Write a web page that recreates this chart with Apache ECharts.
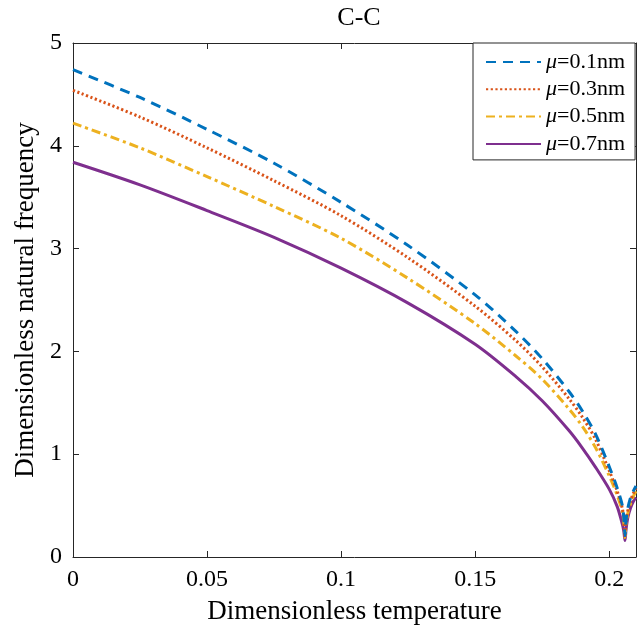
<!DOCTYPE html>
<html>
<head>
<meta charset="utf-8">
<script src="https://cdn.jsdelivr.net/npm/echarts@6/dist/echarts.min.js"></script>
<style>
  html, body { margin: 0; padding: 0; background: #fff; }
  #chart { width: 643px; height: 634px; }
</style>
</head>
<body>
<div id="chart"></div>
<script>
// ---- data ----
const temperature = [0, 0.025, 0.05, 0.075, 0.1, 0.125, 0.15, 0.165, 0.175, 0.185, 0.19, 0.195, 0.2, 0.203, 0.205, 0.2055, 0.2059, 0.2063, 0.207, 0.208, 0.209, 0.21];
const mu01 = [4.74, 4.47, 4.16, 3.83, 3.45, 3.03, 2.55, 2.20, 1.93, 1.61, 1.42, 1.19, 0.88, 0.67, 0.49, 0.36, 0.21, 0.36, 0.48, 0.58, 0.64, 0.69];
const mu03 = [4.54, 4.28, 3.98, 3.66, 3.32, 2.91, 2.44, 2.11, 1.85, 1.54, 1.36, 1.14, 0.84, 0.64, 0.46, 0.34, 0.20, 0.34, 0.46, 0.55, 0.62, 0.67];
const mu05 = [4.22, 3.98, 3.70, 3.41, 3.10, 2.71, 2.27, 1.96, 1.73, 1.44, 1.27, 1.06, 0.79, 0.60, 0.43, 0.32, 0.19, 0.32, 0.43, 0.52, 0.59, 0.64];
const mu07 = [3.84, 3.62, 3.37, 3.11, 2.81, 2.47, 2.07, 1.76, 1.52, 1.23, 1.06, 0.87, 0.66, 0.49, 0.31, 0.24, 0.16, 0.27, 0.39, 0.48, 0.54, 0.58];
const seriesLabels = ['0.1', '0.3', '0.5', '0.7'];
const xTicks = [0, 0.05, 0.1, 0.15, 0.2];
const xTickText = ['0', '0.05', '0.1', '0.15', '0.2'];
const yTicks = [0, 1, 2, 3, 4, 5];

const FONT = "'Liberation Serif', 'Times New Roman', serif";
const AX = '#262626';
const colors = ['#0072BD', '#D95319', '#EDB120', '#7E2F8E'];
const dashes = [[10, 7], [2.2, 2.5], [9, 4, 3, 4], 'solid'];
const values = [mu01, mu03, mu05, mu07];

const series = values.map((vals, i) => ({
  name: 'μ=' + seriesLabels[i] + 'nm',
  type: 'line',
  xAxisIndex: 0,
  yAxisIndex: 0,
  data: temperature.map((t, k) => [t, vals[k]]),
  showSymbol: false,
  symbol: 'none',
  smooth: 0.3,
  clip: true,
  lineStyle: { color: colors[i], width: 3, type: dashes[i], cap: 'butt' },
  itemStyle: { color: colors[i] },
  z: 10 - i
}));

function xFmt(v) {
  for (let i = 0; i < xTicks.length; i++) {
    if (Math.abs(v - xTicks[i]) < 1e-9) return xTickText[i];
  }
  return '';
}

const chart = echarts.init(document.getElementById('chart'), null, { renderer: 'canvas' });
chart.setOption({
  animation: false,
  backgroundColor: '#ffffff',
  title: {
    text: 'C-C',
    left: 354, top: 0, textAlign: 'center',
    textStyle: { fontFamily: FONT, fontSize: 26, fontWeight: 'normal', color: '#000' }
  },
  grid: { left: 73, right: 7, top: 43, bottom: 77, containLabel: false },
  legend: {
    orient: 'vertical',
    left: 473, top: 43,
    padding: [8, 10, 5, 12],
    itemWidth: 55, itemHeight: 14, itemGap: 5.3,
    backgroundColor: '#ffffff',
    borderColor: '#262626', borderWidth: 1, borderRadius: 0,
    itemStyle: { color: 'rgba(0,0,0,0)', borderWidth: 0, opacity: 0 },
    data: series.map(s => s.name),
    formatter: function (name) { return '{it|μ}' + name.slice(1); },
    textStyle: {
      fontFamily: FONT, fontSize: 22, color: '#000', lineHeight: 22,
      rich: { it: { fontFamily: FONT, fontSize: 22, fontStyle: 'italic', color: '#000' } }
    }
  },
  xAxis: [{
    type: 'value', min: 0, max: 0.21, interval: 0.05, position: 'bottom',
    name: 'Dimensionless temperature', nameLocation: 'middle', nameGap: 41,
    nameTextStyle: { fontFamily: FONT, fontSize: 27, color: '#000' },
    axisLine: { show: true, onZero: false, lineStyle: { color: AX, width: 1 } },
    axisTick: { show: true, inside: true, length: 6, lineStyle: { color: AX } },
    axisLabel: { margin: 11, fontFamily: FONT, fontSize: 24, color: '#000', formatter: xFmt, hideOverlap: false, showMaxLabel: false },
    splitLine: { show: false }
  }, {
    type: 'value', min: 0, max: 0.21, interval: 0.05, position: 'top',
    axisLine: { show: true, onZero: false, lineStyle: { color: AX, width: 1 } },
    axisTick: { show: true, inside: true, length: 6, lineStyle: { color: AX } },
    axisLabel: { show: false },
    splitLine: { show: false }
  }],
  yAxis: [{
    type: 'value', min: 0, max: 5, interval: 1, position: 'left',
    name: 'Dimensionless natural frequency', nameLocation: 'middle', nameGap: 22,
    nameTextStyle: { fontFamily: FONT, fontSize: 27, color: '#000' },
    axisLine: { show: true, onZero: false, lineStyle: { color: AX, width: 1 } },
    axisTick: { show: true, inside: true, length: 6, lineStyle: { color: AX } },
    axisLabel: { margin: 11, fontFamily: FONT, fontSize: 24, color: '#000', formatter: v => (yTicks.indexOf(v) >= 0 ? String(v) : '') },
    splitLine: { show: false }
  }, {
    type: 'value', min: 0, max: 5, interval: 1, position: 'right',
    axisLine: { show: true, onZero: false, lineStyle: { color: AX, width: 1 } },
    axisTick: { show: true, inside: true, length: 6, lineStyle: { color: AX } },
    axisLabel: { show: false },
    splitLine: { show: false }
  }],
  series: series
});
</script>
</body>
</html>
